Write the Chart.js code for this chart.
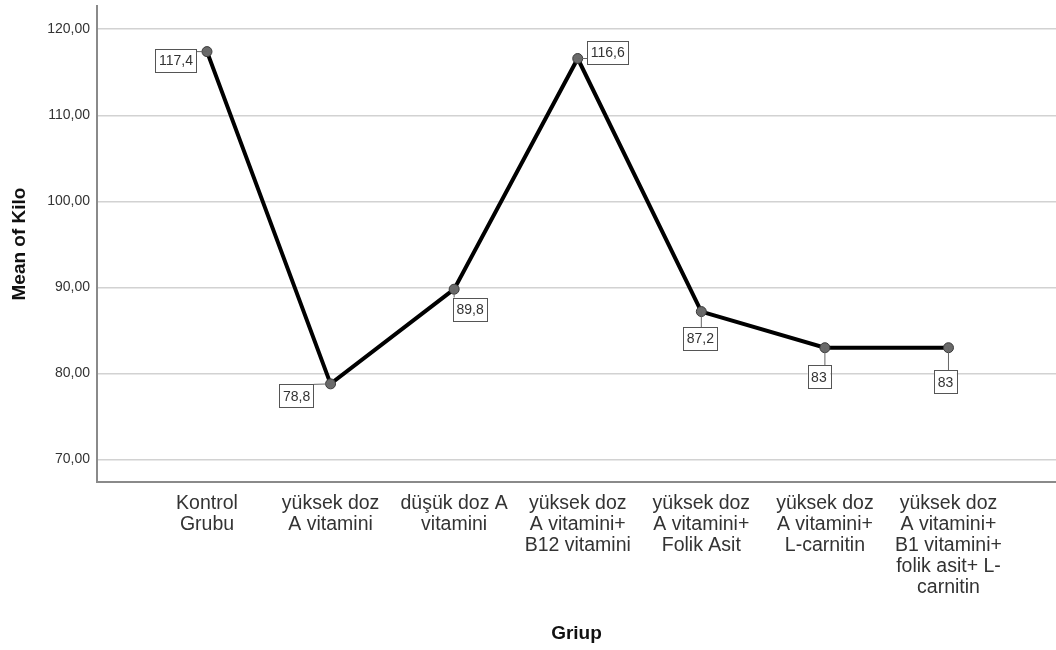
<!DOCTYPE html>
<html>
<head>
<meta charset="utf-8">
<script src="https://cdn.jsdelivr.net/npm/chart.js@4/dist/chart.umd.min.js"></script>
<style>
  html, body { margin: 0; padding: 0; background: #fff; }
  #wrap { width: 1056px; height: 650px; }
</style>
</head>
<body>
<div id="wrap"><canvas id="kiloChart"></canvas></div>
<script>
var groups = [
    ['Kontrol', 'Grubu'],
    ['yüksek doz', 'A vitamini'],
    ['düşük doz A', 'vitamini'],
    ['yüksek doz', 'A vitamini+', 'B12 vitamini'],
    ['yüksek doz', 'A vitamini+', 'Folik Asit'],
    ['yüksek doz', 'A vitamini+', 'L-carnitin'],
    ['yüksek doz', 'A vitamini+', 'B1 vitamini+', 'folik asit+ L-', 'carnitin']
];
var meanKilo = [117.4, 78.8, 89.8, 116.6, 87.2, 83, 83];
var yTicks = [70, 80, 90, 100, 110, 120];

// where each value box sits relative to its point (px)
var labelOffsets = [[-31, 9], [-34, 12], [16, 20], [30, -6], [-1, 27], [-6, 29], [-3, 34]];

var fontFamily = 'Arial, "Liberation Sans", sans-serif';

function fmt(v) {
    return String(v).replace('.', ',');
}

var valueBoxes = {
    id: 'valueBoxes',
    afterDatasetsDraw: function(chart) {
        var ctx = chart.ctx;
        var pts = chart.getDatasetMeta(0).data;
        ctx.save();
        ctx.font = '14px ' + fontFamily;
        ctx.textAlign = 'center';
        ctx.textBaseline = 'middle';
        pts.forEach(function(p, i) {
            var txt = fmt(meanKilo[i]);
            var w = ctx.measureText(txt).width + 7;
            var h = 23;
            var cx = p.x + labelOffsets[i][0];
            var cy = p.y + labelOffsets[i][1];
            var l = cx - w / 2, t = cy - h / 2;
            // leader line to nearest edge of the box
            var ex = Math.min(Math.max(p.x, l), l + w);
            var ey = Math.min(Math.max(p.y, t), t + h);
            ctx.strokeStyle = '#666';
            ctx.lineWidth = 1;
            ctx.beginPath();
            ctx.moveTo(p.x, p.y);
            ctx.lineTo(ex, ey);
            ctx.stroke();
            ctx.fillStyle = '#fff';
            ctx.fillRect(l, t, w, h);
            ctx.strokeStyle = '#555';
            ctx.strokeRect(Math.round(l) + 0.5, Math.round(t) + 0.5, Math.round(w), Math.round(h));
            ctx.fillStyle = '#333';
            ctx.fillText(txt, cx, cy + 1);
        });
        ctx.restore();
    }
};

new Chart(document.getElementById('kiloChart'), {
    type: 'line',
    plugins: [valueBoxes],
    data: {
        datasets: [{
            data: meanKilo.map(function(v, i) { return {x: i, y: v}; }),
            borderColor: '#000',
            borderWidth: 4,
            tension: 0,
            pointRadius: 5,
            pointBackgroundColor: '#6a6a6a',
            pointBorderColor: '#3a3a3a',
            pointBorderWidth: 1,
            clip: false
        }]
    },
    options: {
        responsive: true,
        maintainAspectRatio: false,
        animation: false,
        layout: { autoPadding: false, padding: { top: 6, right: 0, left: 0, bottom: 0 } },
        plugins: {
            legend: { display: false },
            tooltip: { enabled: false }
        },
        scales: {
            x: {
                type: 'linear',
                min: -0.89,
                max: 6.87,
                afterBuildTicks: function(scale) {
                    scale.ticks = groups.map(function(g, i) { return {value: i}; });
                },
                afterFit: function(scale) {
                    scale.height = 168;
                    scale.paddingLeft = 0;
                    scale.paddingRight = 0;
                },
                grid: { display: false, drawTicks: false },
                border: { display: true, color: '#8a8a8a', width: 2 },
                ticks: {
                    padding: 11,
                    maxRotation: 0,
                    autoSkip: false,
                    color: '#333',
                    font: { family: fontFamily, size: 19.5, lineHeight: 1.08 },
                    callback: function(value) { return groups[value]; }
                },
                title: {
                    display: true,
                    text: 'Griup',
                    color: '#111',
                    font: { family: fontFamily, size: 19, weight: 'bold' },
                    padding: { top: 0, bottom: 5 }
                }
            },
            y: {
                min: 67.4,
                max: 122.7,
                afterBuildTicks: function(scale) {
                    scale.ticks = yTicks.map(function(v) { return {value: v}; });
                },
                afterFit: function(scale) {
                    scale.width = 97;
                    scale.paddingTop = 0;
                    scale.paddingBottom = 0;
                },
                grid: { color: '#d2d2d2', lineWidth: 1.5, drawTicks: false },
                border: { display: true, color: '#8a8a8a', width: 2 },
                ticks: {
                    padding: 7,
                    color: '#333',
                    font: { family: fontFamily, size: 14 },
                    callback: function(value) { return value.toFixed(2).replace('.', ','); }
                },
                title: {
                    display: true,
                    text: 'Mean of Kilo',
                    color: '#111',
                    font: { family: fontFamily, size: 19, weight: 'bold' },
                    padding: { top: 8, bottom: 0 }
                }
            }
        }
    }
});
</script>
</body>
</html>
